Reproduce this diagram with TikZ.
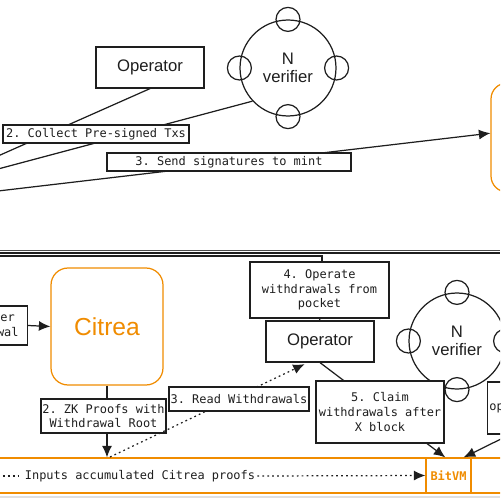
\documentclass[tikz,border=0pt]{standalone}
\usepackage{fontspec}
\setmainfont{Liberation Sans}
\setmonofont{DejaVu Sans Mono}
\usepackage{xcolor}
\usepackage{tikz}
\usetikzlibrary{shapes}
\usetikzlibrary{arrows.meta}
\definecolor{ink}{HTML}{1E1E1E}
\definecolor{orng}{HTML}{F08C00}

\begin{document}
\begin{tikzpicture}[x=0.02cm,y=-0.02cm,
  color=ink,
  line width=0.7pt,
  box/.style={rectangle,draw=ink,fill=white,inner sep=0pt},
  lbl/.style={rectangle,draw=ink,fill=white,inner sep=0pt,align=center,
    font=\ttfamily\fontsize{6.8}{8.3}\selectfont},
  hand/.style={font=\fontsize{9.5}{10.5}\selectfont},
  ring/.style={circle,draw=ink,minimum size=1.92cm,inner sep=0pt,align=center},
  bead/.style={circle,draw=ink,minimum size=0.48cm,inner sep=0pt},
  arr/.style={-{Latex[length=0.23cm,width=0.2cm]}},
  dotline/.style={dash pattern=on 1pt off 1.8pt}]
  \useasboundingbox (0,0) rectangle (500,500);
  \clip (0,0) rectangle (500,500);

  % upper part
  \node[anchor=east,hand] (note) at (7,64) {r.};
  \node[box,hand,minimum width=2.16cm,minimum height=0.82cm] (opTop) at (150,67.5) {Operator};
  \node[ring,hand] (verTop) at (288,68) {N\\verifier};
  \foreach \a in {0,90,180,270}
    \node[bead] (verTop\a) at (verTop.\a) {};
  \node[draw=orng,rounded corners=0.32cm,minimum width=1.38cm,minimum height=2.18cm] (mint) at (525.5,137.5) {};
  \coordinate (inA) at (-2,156);
  \coordinate (inB) at (-2,169);
  \coordinate (inC) at (-2,191);
  \draw (opTop.south) -- (inA);
  \draw (verTop.-137) -- (inB);
  \draw[arr] (inC) -- (mint.173);
  \node[lbl,minimum width=3.72cm,minimum height=0.36cm] (collect) at (96,134) {2. Collect Pre-signed Txs};
  \node[lbl,minimum width=4.88cm,minimum height=0.36cm] (send) at (229,162) {3. Send signatures to mint};

  \draw[black!70] (0,250.5) -- (500,250.5);
  \draw (0,253) -- (500,253);

  % lower part
  \draw (-5,256) -- (322,256) -- (322,264);
  \node[lbl,minimum width=2.78cm,minimum height=1.12cm] (operate) at (319.5,290) {4. Operate\\withdrawals from\\pocket};
  \node[box,hand,minimum width=2.16cm,minimum height=0.82cm] (opLow) at (320,341.5) {Operator};
  \draw (opLow.north) -- (operate.south);

  \node[draw=orng,fill=white,text=orng,rounded corners=0.34cm,minimum width=2.24cm,minimum height=2.34cm,
    font=\fontsize{14}{16}\selectfont] (citrea) at (107,326.5) {Citrea};
  \node[lbl,anchor=east,align=right,inner xsep=5pt,minimum height=0.78cm] (userW) at (28,325.5) {er\kern2.2pt\\wal};
  \draw[arr] (userW.east) -- (citrea.west);

  \node[draw=orng,minimum width=10.2cm,minimum height=0.7cm,inner sep=0pt] (bar) at (250,475.5) {};
  \node[font=\ttfamily\fontsize{6.8}{8.3}\selectfont,inner sep=1pt] (barTxt) at (140,476) {Inputs accumulated Citrea proofs};
  \node[draw=orng,fill=white,text=orng,font=\ttfamily\bfseries\fontsize{6.8}{8.3}\selectfont,
    minimum width=0.9cm,minimum height=0.7cm,inner sep=0pt] (bitvm) at (448.5,475.5) {BitVM};
  \coordinate (barIn) at (-2,476);
  \draw[dotline] (barIn) -- (barTxt.west);
  \draw[dotline,arr] (barTxt.east) -- (bitvm.west);

  \coordinate (zkIn) at (citrea.south |- bar.north);
  \draw[arr] (citrea.south) -- (zkIn);
  \node[lbl,minimum width=2.5cm,minimum height=0.68cm] (zk) at (103.5,416) {2. ZK Proofs with\\Withdrawal Root};

  \coordinate (rdIn) at (110,457);
  \draw[dotline,arr,shorten >=2pt] (rdIn) -- (opLow.-120);
  \node[lbl,minimum width=2.8cm,minimum height=0.48cm] (read) at (239,399) {3. Read Withdrawals};

  \node[ring,hand] (verLow) at (457,341) {N\\verifier};
  \foreach \a in {0,90,180,270}
    \node[bead] (verLow\a) at (verLow.\a) {};

  \draw[arr] (opLow.south) -- (bitvm.100);
  \node[lbl,minimum width=2.56cm,minimum height=1.24cm] (claim) at (380,412) {5. Claim\\withdrawals after\\X block};

  \node[lbl,anchor=west,text width=1.3cm,align=left,inner xsep=1pt,minimum height=1.04cm] (opR) at (487,408) {op};
  \coordinate (opIn) at (505,437);
  \draw[arr] (opIn) -- (bitvm.50);

  \draw[black!12] (0,497) -- (500,497);
\end{tikzpicture}
\end{document}
